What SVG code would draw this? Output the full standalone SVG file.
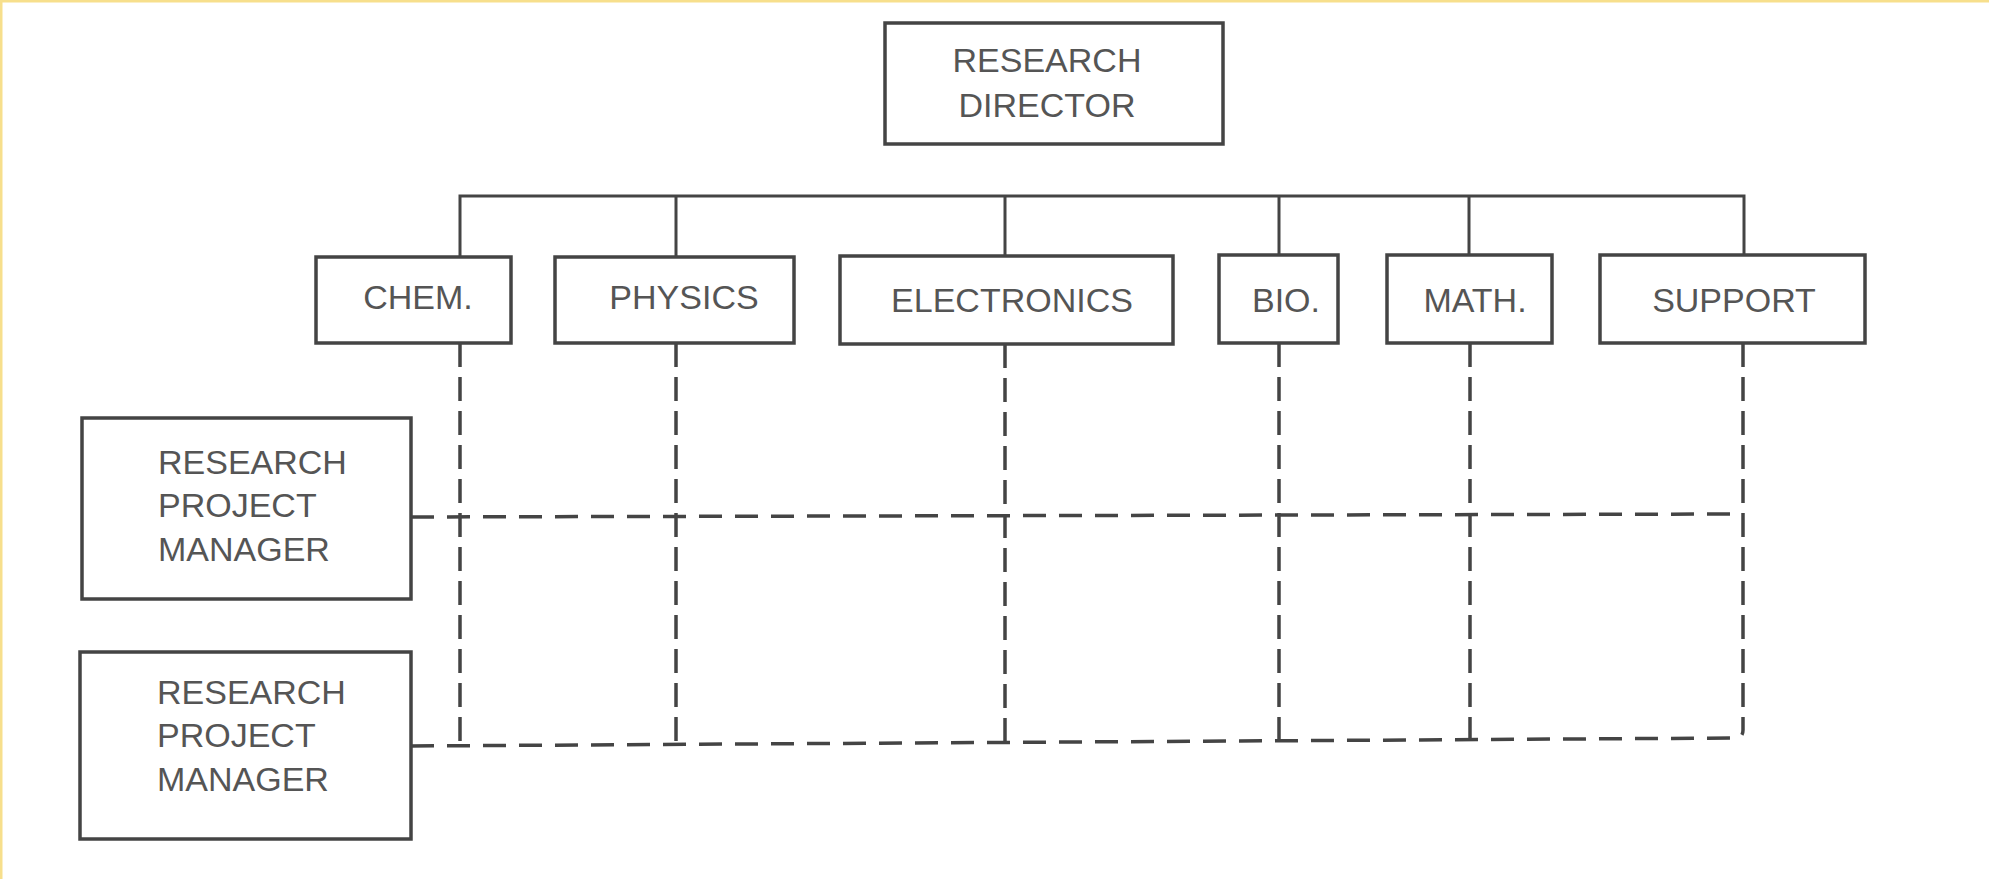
<svg xmlns="http://www.w3.org/2000/svg" width="1989" height="879" viewBox="0 0 1989 879">
<style>
.box{fill:#fff;stroke:#444;stroke-width:3.5}
.t{font-family:"Liberation Sans",Arial,sans-serif;font-size:34px;fill:#555}
.c{text-anchor:middle}
.solid{fill:none;stroke:#444;stroke-width:3}
.dv{fill:none;stroke:#444;stroke-width:3.5;stroke-dasharray:24 10}
.dh{fill:none;stroke:#444;stroke-width:3.5;stroke-dasharray:23 13}
</style>
<rect width="1989" height="879" fill="#fff"/>
<path d="M1,879 V1 H1989" fill="none" stroke="#f7df8c" stroke-width="3"/>
<g id="connectors">
<path class="solid" d="M460,257 V196 H1744 V255 M676,196 V257 M1005,196 V256 M1279,196 V255 M1469,196 V255"/>
<path class="dv" d="M460,343 V746 M676,343 V745 M1005,344 V744 M1279,343 V742 M1470,343 V740 M1743,343 V730"/>
<path class="dh" d="M411,517 L1743,514"/>
<path class="dh" d="M411,746 L1735,738 Q1743,738 1743,730"/>
</g>
<g id="director">
<rect class="box" x="885" y="23" width="338" height="121"/>
<text class="t c" x="1047" y="72">RESEARCH</text>
<text class="t c" x="1047" y="117">DIRECTOR</text>
</g>
<g id="chem">
<rect class="box" x="316" y="257" width="195" height="86"/>
<text class="t c" x="418" y="309">CHEM.</text>
</g>
<g id="physics">
<rect class="box" x="555" y="257" width="239" height="86"/>
<text class="t c" x="684" y="309">PHYSICS</text>
</g>
<g id="electronics">
<rect class="box" x="840" y="256" width="333" height="88"/>
<text class="t c" x="1012" y="312">ELECTRONICS</text>
</g>
<g id="bio">
<rect class="box" x="1219" y="255" width="119" height="88"/>
<text class="t c" x="1286" y="312">BIO.</text>
</g>
<g id="math">
<rect class="box" x="1387" y="255" width="165" height="88"/>
<text class="t c" x="1475" y="312">MATH.</text>
</g>
<g id="support">
<rect class="box" x="1600" y="255" width="265" height="88"/>
<text class="t c" x="1734" y="312">SUPPORT</text>
</g>
<g id="rpm1">
<rect class="box" x="82" y="418" width="329" height="181"/>
<text class="t" x="158" y="474">RESEARCH</text>
<text class="t" x="158" y="517">PROJECT</text>
<text class="t" x="158" y="561">MANAGER</text>
</g>
<g id="rpm2">
<rect class="box" x="80" y="652" width="331" height="187"/>
<text class="t" x="157" y="704">RESEARCH</text>
<text class="t" x="157" y="747">PROJECT</text>
<text class="t" x="157" y="791">MANAGER</text>
</g>
</svg>
